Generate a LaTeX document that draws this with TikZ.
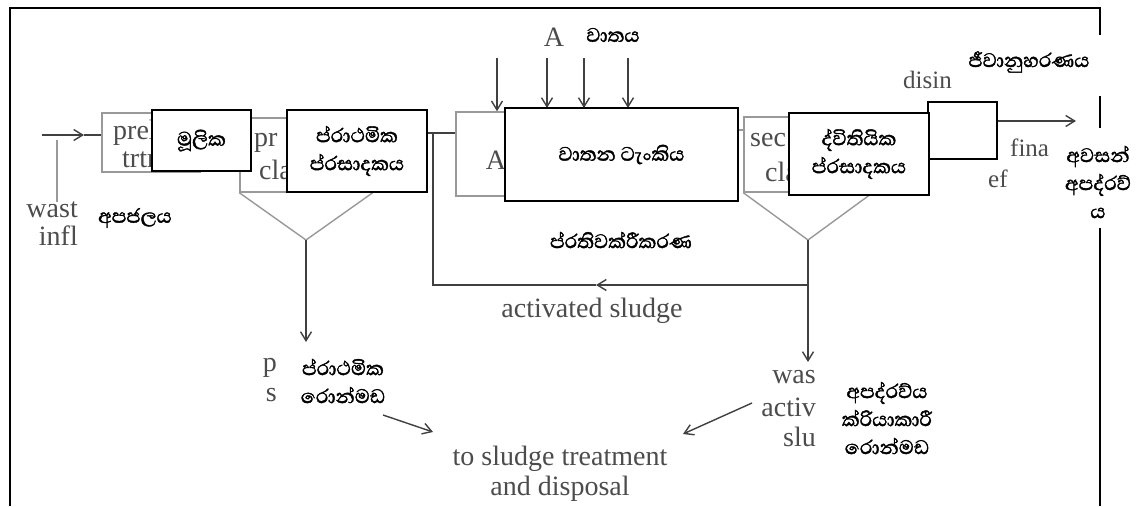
\documentclass[tikz,border=0pt]{standalone}
\usepackage{fontspec}
\setmainfont{Liberation Serif}
\newfontfamily\sinhalafont[Script=Sinhala,FakeBold=1.6]{Abhaya Libre}
\usetikzlibrary{positioning,arrows.meta}

\tikzset{
  frame/.style={draw=black, line width=2pt},
  figbox/.style={draw=black!40, line width=1.4pt, inner sep=0pt},
  labelbox/.style={draw=black, line width=1.8pt, fill=white, inner sep=0pt,
    font=\sinhalafont\fontsize{25}{28}\selectfont, align=center},
  flow/.style={draw=black!75, line width=1.4pt},
  tip/.style={-{Straight Barb[length=9pt,width=11pt,line width=1.4pt]}},
  eng/.style={text=black!70, font=\fontsize{28}{32}\selectfont, inner sep=0pt, align=center},
  engsm/.style={eng, font=\fontsize{25}{28}\selectfont},
  sin/.style={font=\sinhalafont\fontsize{25}{28}\selectfont, inner sep=0pt, align=center},
}

\begin{document}
\begin{tikzpicture}[x=1pt,y=-1pt]
  \useasboundingbox (0,0) rectangle (1139,506);
  \fill[white] (0,0) rectangle (1139,506);

  % frame
  \draw[frame] (10,506) -- (10,8) -- (1100,8) -- (1100,35);
  \draw[frame] (1100,96) -- (1100,128);
  \draw[frame] (1100,228) -- (1100,506);

  % underlying plant
  \node[figbox, minimum width=98pt, minimum height=59pt] (prel) at (151,142.5) {};
  \node[figbox, minimum width=132pt, minimum height=74pt] (pcl) at (306,155) {};
  \node[figbox, minimum width=104pt, minimum height=84pt] (aer) at (508,154) {};
  \node[figbox, minimum width=128pt, minimum height=75pt] (scl) at (808,154.5) {};
  \coordinate (pcap) at (306,240);
  \coordinate (scap) at (808,240);
  \draw[figbox] (pcl.south west) -- (pcap) -- (pcl.south east);
  \draw[figbox] (scl.south west) -- (scap) -- (scl.south east);

  \node[eng, anchor=west] at (113,133) {prel};
  \node[eng, anchor=west] at (122,160) {trtr};
  \node[eng, anchor=east] (wast) at (78,210) {wast};
  \node[eng, anchor=east] at (78,236) {infl};
  \node[eng, anchor=west] at (254,143) {pr};
  \node[eng, anchor=west] at (259,170) {cla};
  \node[eng] at (496,160) {A};
  \node[eng, anchor=west] at (750,140) {sec};
  \node[eng, anchor=west] at (765,172) {cla};
  \node[eng] (air) at (554,37) {A};
  \node[engsm, anchor=west] at (903,80) {disin};
  \node[engsm, anchor=west] at (1010,148) {fina};
  \node[engsm, anchor=west] at (988,179) {ef};
  \node[eng] (actsl) at (592,311) {activated sludge};
  \node[eng, anchor=east] at (277,368) {p};
  \node[eng, anchor=east] at (277,395) {s};
  \node[eng, anchor=east] at (816,377) {was};
  \node[eng, anchor=east] at (816,407) {activ};
  \node[eng, anchor=east] at (816,437) {slu};
  \node[eng] (treat) at (560,474) {to sludge treatment\\[-2pt]and disposal};

  % flows
  \coordinate (inl) at (42,135);
  \coordinate (inm) at (84,135);
  \draw[flow, tip] (inl) -- (inm);
  \draw[flow] (inm) -- (prel.west |- inm);
  \coordinate (lead) at (57,140);
  \draw[figbox] (lead) -- (lead |- wast.north);

  \node[draw=black, line width=1.4pt, fill=white, minimum width=69pt, minimum height=57pt] (disb) at (962.5,130.5) {};

  \coordinate (jn) at (433,133);
  \coordinate (tc) at (741,130);
  \draw[figbox] (tc -| 735,0) -- (scl.west |- tc);

  \foreach \ax in {547,584,628}{
    \coordinate (air\ax) at (\ax,58);
    \draw[flow, tip] (air\ax) -- (\ax,108);
  }
  \coordinate (air497) at (497,58);
  \draw[flow, tip] (air497) -- (air497 |- aer.north);

  \coordinate (outl) at (1076,121);
  \draw[flow, tip] (disb.east |- outl) -- (outl);

  \coordinate (rcy) at (808,285);
  \coordinate (rcm) at (596,285);
  \coordinate (rcl) at (433,285);
  \coordinate (wsl) at (808,362);
  \coordinate (psl) at (306,342);
  \draw[flow, tip] (scap) -- (wsl);
  \draw[flow, tip] (rcy) -- (rcm);
  \draw[flow] (rcm) -- (rcl) -- (jn);
  \draw[flow, tip] (pcap) -- (psl);

  \coordinate (ps1) at (383,415);
  \coordinate (ps2) at (433,432);
  \coordinate (ws1) at (752,403);
  \coordinate (ws2) at (683,434);
  \draw[flow, tip] (ps1) -- (ps2);
  \draw[flow, tip] (ws1) -- (ws2);

  % sinhala boxes
  \node[labelbox, minimum width=99pt, minimum height=61pt] (mulika) at (201.5,140.5) {මූලික};
  \node[labelbox, minimum width=140pt, minimum height=82pt] (prath) at (357,151) {ප්රාථමික\\ප්රසාදකය};
  \draw[flow] (prath.east |- jn) -- (aer.west |- jn);
  \node[labelbox, minimum width=233pt, minimum height=93pt] (tank) at (621.5,154.5) {වාතන ටැංකිය};
  \node[labelbox, minimum width=140pt, minimum height=82pt] (dvit) at (859,154) {ද්විතියික\\ප්රසාදකය};

  % sinhala labels
  \node[sin] at (613,35) {වාතය};
  \node[sin] at (1029,62) {ජීවානුහරණය};
  \node[sin] at (1098,182) {අවසන්\\අපද්රව්\\ය};
  \node[sin] at (135,218) {අපජලය};
  \node[sin] at (621,240) {ප්රතිවක්රීකරණ};
  \node[sin] at (343,381) {ප්රාථමික\\රොන්මඩ};
  \node[sin] at (887,418) {අපද්රව්ය\\ක්රියාකාරී\\රොන්මඩ};
\end{tikzpicture}
\end{document}
